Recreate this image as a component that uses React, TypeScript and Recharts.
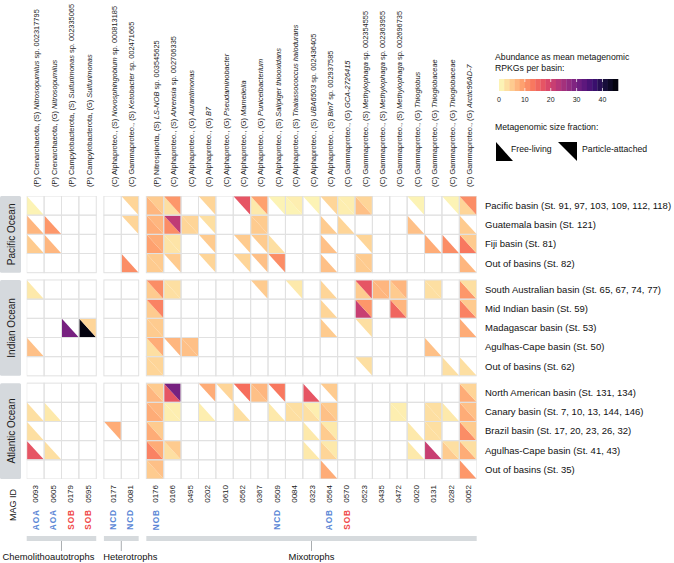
import React from "react";
import { ScatterChart, Scatter, XAxis, YAxis } from "recharts";

const FONT = "'Liberation Sans', Arial, Helvetica, sans-serif";

// columns (MAGs)
const headers = [
  "(P) Crenarchaeota, (S) *Nitrosopumilus* sp. 002317795",
  "(P) Crenarchaeota, (G) *Nitrosopumilus*",
  "(P) Campylobacterota, (S) *Sulfurimonas* sp. 002335065",
  "(P) Campylobacterota, (G) *Sulfurimonas*",
  "(C) Alphaproteo., (S) *Novosphingobium* sp. 000813185",
  "(C) Gammaproteo., (S) *Ketobacter* sp. 002471665",
  "(P) Nitrospinota, (S) *LS-NOB* sp. 003545625",
  "(C) Alphaproteo., (S) *Ahrensia* sp. 002706335",
  "(C) Alphaproteo., (G) *Aurantimonas*",
  "(C) Alphaproteo., (G) *B7*",
  "(C) Alphaproteo., (G) *Pseudaminobacter*",
  "(C) Alphaproteo., (G) *Mameliella*",
  "(C) Alphaproteo., (G) *Puniceibacterium*",
  "(C) Alphaproteo., (S) *Salipiger thiooxidans*",
  "(C) Alphaproteo., (S) *Thalassococcus halodurans*",
  "(C) Alphaproteo., (S) *UBA6503* sp. 002436405",
  "(C) Alphaproteo., (S) *Bin7* sp. 002937585",
  "(C) Gammaproteo., (G) *GCA-2726415*",
  "(C) Gammaproteo., (S) *Methylophaga* sp. 002354555",
  "(C) Gammaproteo., (S) *Methylophaga* sp. 002363955",
  "(C) Gammaproteo., (S) *Methylophaga* sp. 002696735",
  "(C) Gammaproteo., (G) *Thioglobus*",
  "(C) Gammaproteo., (G) *Thioglobaceae*",
  "(C) Gammaproteo., (G) *Thioglobaceae*",
  "(C) Gammaproteo., (G) *Arctic96AD-7*",
];
const magIds = [
  "0093", "0605", "0179", "0595", "0177", "0081", "0176", "0166", "0495", "0202", "0610", "0562", "0367",
  "0509", "0084", "0323", "0564", "0570", "0523", "0435", "0472", "0020", "0131", "0282", "0052",
];
const functions = [
  "AOA", "AOA", "SOB", "SOB", "NCD", "NCD", "NOB", "", "", "", "", "", "",
  "NCD", "", "", "AOB", "SOB", "", "", "", "", "", "", "",
];
const columnGroup = [0, 0, 0, 0, 1, 1, 2, 2, 2, 2, 2, 2, 2, 2, 2, 2, 2, 2, 2, 2, 2, 2, 2, 2, 2];
const groupNames = ["Chemolithoautotrophs", "Heterotrophs", "Mixotrophs"];

// rows (basins)
const oceans = ["Pacific Ocean", "Indian Ocean", "Atlantic Ocean"];
const basins = [
  "Pacific basin (St. 91, 97, 103, 109, 112, 118)",
  "Guatemala basin (St. 121)",
  "Fiji basin (St. 81)",
  "Out of basins (St. 82)",
  "South Australian basin (St. 65, 67, 74, 77)",
  "Mid Indian basin (St. 59)",
  "Madagascar basin (St. 53)",
  "Agulhas-Cape basin (St. 50)",
  "Out of basins (St. 62)",
  "North American basin (St. 131, 134)",
  "Canary basin (St. 7, 10, 13, 144, 146)",
  "Brazil basin (St. 17, 20, 23, 26, 32)",
  "Agulhas-Cape basin (St. 41, 43)",
  "Out of basins (St. 35)",
];
const basinOcean = [0, 0, 0, 0, 1, 1, 1, 1, 1, 2, 2, 2, 2, 2];

// RPKG values, free-living fraction (lower-left triangle)
const freeLiving = [
  [1, 0, 0, 0, 0, 0, 7, 3, 0, 0, 0, 0, 2, 0, 1, 0, 0, 1.5, 6, 0, 0, 0, 0, 0, 4],
  [7, 10, 0, 0, 0, 0, 8, 11, 4, 0, 0, 0, 5, 0, 0, 0, 5, 4, 0, 0, 0, 6, 0, 0, 5],
  [5, 7, 0, 0, 0, 0, 9, 2.5, 0, 0, 0, 0, 0, 3, 0, 0, 6, 0, 0, 0, 0, 0, 8, 11, 13],
  [0, 0, 0, 0, 0, 11, 5, 0, 0, 0, 0, 0, 0, 0, 0, 0, 6, 0, 5, 0, 0, 0, 0, 0, 7],
  [2, 0, 0, 0, 0, 0, 5, 3, 0, 0, 0, 0, 0, 0, 0, 0, 4, 0, 5, 7, 5, 0, 3, 0, 10],
  [0, 0, 0, 0, 0, 0, 5, 0, 0, 0, 0, 0, 0, 0, 0, 0, 4, 0, 21, 0, 15, 0, 0, 0, 12],
  [0, 0, 30, 45, 0, 0, 5, 0, 0, 0, 0, 0, 0, 0, 0, 0, 5, 0, 0, 0, 0, 0, 0, 0, 8],
  [6, 0, 0, 0, 0, 0, 3, 0, 6, 0, 0, 0, 0, 0, 0, 0, 0, 0, 0, 0, 0, 0, 6, 0, 0],
  [0, 0, 0, 0, 0, 0, 4, 0, 0, 0, 0, 0, 0, 0, 0, 0, 0, 0, 0, 0, 0, 0, 0, 3, 3],
  [0, 0, 0, 0, 0, 0, 7, 17, 0, 0, 0, 0, 6, 0, 0, 17, 0, 0, 0, 0, 0, 0, 0, 0, 8],
  [3, 2, 0, 0, 0, 0, 8, 1.5, 0, 1.5, 0, 3, 0, 2, 3, 3, 6, 0, 0, 0, 1.5, 0, 3, 2, 8],
  [3, 0, 0, 0, 0, 0, 8, 0, 0, 0, 0, 0, 0, 0, 0, 2, 5, 0, 0, 0, 0, 2, 3, 0, 11],
  [17, 3, 0, 0, 0, 0, 12, 3, 0, 0, 0, 0, 0, 0, 0, 2, 4, 0, 0, 0, 0, 2, 21, 5, 8],
  [0, 0, 0, 0, 0, 0, 5, 0, 0, 0, 0, 0, 0, 0, 0, 0, 8, 0, 0, 0, 0, 0, 0, 0, 10],
];
// particle-attached fraction (upper-right triangle)
const particleAttached = [
  [0, 0, 0, 0, 0, 4, 5, 10, 0, 4, 0, 17, 9, 1, 1.5, 1, 4, 1.5, 4, 0, 0, 1, 0, 1, 11],
  [0, 0, 0, 0, 0, 4, 7, 22, 4, 3, 0, 0, 5, 0, 0, 0, 0, 0, 0, 0, 0, 0, 0, 0, 0],
  [0, 0, 0, 0, 0, 0, 8, 2.5, 0, 5, 0, 5, 5, 0, 0, 0, 0, 0, 4, 0, 0, 0, 0, 0, 5],
  [0, 0, 0, 0, 0, 0, 5, 5, 0, 4, 0, 4, 6, 11, 0, 0, 0, 0, 5, 0, 0, 0, 0, 0, 0],
  [0, 0, 0, 0, 0, 0, 11, 3, 0, 0, 0, 0, 5, 0, 2, 0, 0, 0, 17, 7, 7, 0, 3, 0, 3],
  [0, 0, 0, 0, 0, 0, 12, 0, 0, 0, 0, 0, 0, 0, 0, 0, 0, 0, 10, 0, 7, 0, 0, 0, 5],
  [0, 0, 0, 4, 0, 0, 5, 0, 0, 0, 0, 0, 0, 0, 0, 0, 0, 0, 3, 0, 0, 0, 0, 0, 0],
  [0, 0, 0, 0, 0, 0, 8, 7, 6, 0, 0, 0, 0, 0, 0, 0, 0, 0, 0, 0, 0, 0, 0, 0, 0],
  [0, 0, 0, 0, 0, 0, 4, 0, 0, 0, 0, 0, 0, 0, 0, 0, 0, 0, 3, 0, 0, 0, 0, 0, 0],
  [0, 0, 0, 0, 0, 0, 5, 30, 0, 8, 4, 14, 7, 13, 0, 0, 5, 0, 0, 0, 0, 0, 0, 0, 4],
  [0, 0, 0, 0, 0, 0, 7, 1.5, 0, 0, 0, 0, 0, 0, 3, 1.5, 5, 0, 0, 0, 1.5, 0, 3, 0, 6],
  [0, 0, 0, 0, 8, 0, 5, 0, 0, 0, 0, 0, 0, 0, 0, 0, 2, 0, 0, 0, 0, 0, 3, 0, 5],
  [0, 0, 0, 0, 0, 0, 8, 5, 0, 0, 0, 0, 0, 0, 0, 0, 2, 0, 0, 0, 0, 0, 0, 3, 3],
  [0, 0, 0, 0, 0, 0, 6, 0, 0, 0, 0, 0, 0, 0, 0, 0, 0, 0, 0, 0, 0, 0, 0, 0, 0],
];
const legendTicks = [0, 10, 20, 30, 40];
const MAX_VAL = 46;

// layout
const W = 674;
const H = 563;
const PLOT = { left: 26.7, right: 476.7, top: 196, bottom: 479 };
const GAP_X = 0.44;
const GAP_Y = 0.38;
const X_SPAN = magIds.length + 2 * GAP_X;
const Y_SPAN = basins.length + 2 * GAP_Y;
const CW = (PLOT.right - PLOT.left) / X_SPAN;
const CH = (PLOT.bottom - PLOT.top) / Y_SPAN;
const AX = 1; // thickness given to each axis

const colX = (c: number) => c + 0.5 + columnGroup[c] * GAP_X;
const rowY = (r: number) => r + 0.5 + basinOcean[r] * GAP_Y;
const colCenters = magIds.map((_, c) => colX(c));
const rowCenters = basins.map((_, r) => rowY(r));
const groupCenters = groupNames.map((_, g) => {
  const cols = columnGroup.map((v, i) => (v === g ? i : -1)).filter((i) => i >= 0);
  return (colX(cols[0]) + colX(cols[cols.length - 1])) / 2;
});
const groupSizes = groupNames.map((_, g) => columnGroup.filter((v) => v === g).length);
const oceanCenters = oceans.map((_, o) => {
  const rows = basinOcean.map((v, i) => (v === o ? i : -1)).filter((i) => i >= 0);
  return (rowY(rows[0]) + rowY(rows[rows.length - 1])) / 2;
});
const oceanSizes = oceans.map((_, o) => basinOcean.filter((v) => v === o).length);

const MAGMA = ["#000004", "#140e36", "#3b0f70", "#641a80", "#8c2981", "#b73779", "#de4968", "#f7705c", "#fe9f6d", "#fecf92", "#fcfdbf"];
function rgb(h: string) {
  return [1, 3, 5].map((i) => parseInt(h.slice(i, i + 2), 16));
}
function colorFor(v: number) {
  const t = Math.max(0, Math.min(1, 1 - v / MAX_VAL)) * 10;
  const i = Math.min(9, Math.floor(t));
  const f = t - i;
  const a = rgb(MAGMA[i]);
  const b = rgb(MAGMA[i + 1]);
  const m = a.map((x, k) => Math.round(x + (b[k] - x) * f));
  return `rgb(${m[0]},${m[1]},${m[2]})`;
}

const cells = basins.flatMap((_, r) => magIds.map((_, c) => ({ x: colX(c), y: rowY(r) })));
const flData = basins.flatMap((_, r) =>
  magIds.map((_, c) => ({ x: colX(c), y: rowY(r), v: freeLiving[r][c] })).filter((d) => d.v > 0)
);
const paData = basins.flatMap((_, r) =>
  magIds.map((_, c) => ({ x: colX(c), y: rowY(r), v: particleAttached[r][c] })).filter((d) => d.v > 0)
);

const BgCell = (p: any) => (
  <rect x={p.cx - CW / 2} y={p.cy - CH / 2} width={CW} height={CH} fill="#fff" />
);
const GridCell = (p: any) => (
  <rect x={p.cx - CW / 2} y={p.cy - CH / 2} width={CW} height={CH} fill="none" stroke="#e1e1e1" strokeWidth={1} />
);
const FreeTri = (p: any) => {
  const x0 = p.cx - CW / 2, x1 = p.cx + CW / 2, y0 = p.cy - CH / 2, y1 = p.cy + CH / 2;
  return <polygon points={`${x0},${y0} ${x0},${y1} ${x1},${y1}`} fill={colorFor(p.payload.v)} />;
};
const PartTri = (p: any) => {
  const x0 = p.cx - CW / 2, x1 = p.cx + CW / 2, y0 = p.cy - CH / 2, y1 = p.cy + CH / 2;
  return <polygon points={`${x0},${y0} ${x1},${y0} ${x1},${y1}`} fill={colorFor(p.payload.v)} />;
};

const idx = (p: any) => (p.index ?? p.payload?.index ?? 0) as number;

const HeaderTick = (p: any) => {
  const i = idx(p);
  const x = p.x + 4;
  const y = PLOT.top - 9;
  return (
    <text x={x} y={y} transform={`rotate(-90 ${x} ${y})`} fontSize={7.45} fill="#222" fontFamily={FONT}>
      {headers[i].split("*").map((s, k) => (
        <tspan key={k} fontStyle={k % 2 ? "italic" : "normal"}>{s}</tspan>
      ))}
    </text>
  );
};

const MagTick = (p: any) => {
  const i = idx(p);
  const x = p.x + 3;
  const fn = functions[i];
  return (
    <g fontFamily={FONT}>
      {i === 0 && (
        <text x={15.5} y={505} transform="rotate(-90 15.5 505)" textAnchor="middle" fontSize={9} fill="#111">
          MAG ID
        </text>
      )}
      <text x={x} y={485} transform={`rotate(-90 ${x} 485)`} textAnchor="end" fontSize={8} fill="#222">
        {magIds[i]}
      </text>
      {fn && (
        <text x={x + 0.5} y={509} transform={`rotate(-90 ${x + 0.5} 509)`} textAnchor="end" fontSize={8.3}
          fontWeight="bold" letterSpacing={0.9} fill={fn === "SOB" ? "#f04848" : "#5b87d6"}>
          {fn}
        </text>
      )}
    </g>
  );
};

const GROUP_LABEL_DX = [-13, 9, 0];
const GroupTick = (p: any) => {
  const i = idx(p);
  const w = groupSizes[i] * CW;
  return (
    <g fontFamily={FONT}>
      <rect x={p.x - w / 2} y={536} width={w} height={5} fill="#d6dadd" />
      <line x1={p.x} x2={p.x} y1={541} y2={551} stroke="#a9adb0" strokeWidth={1} />
      <text x={p.x + GROUP_LABEL_DX[i]} y={560} textAnchor="middle" fontSize={9.4} fill="#111">
        {groupNames[i]}
      </text>
    </g>
  );
};

const RowTick = (p: any) => {
  const i = idx(p);
  return (
    <text x={485} y={p.y + 3.4} fontSize={9.5} fill="#111" fontFamily={FONT}>
      {basins[i]}
    </text>
  );
};

const OceanTick = (p: any) => {
  const i = idx(p);
  const h = oceanSizes[i] * CH;
  return (
    <g fontFamily={FONT}>
      <rect x={0} y={p.y - h / 2} width={21} height={h} fill="#d5d9dd" rx={1.5} />
      <text x={14.6} y={p.y} transform={`rotate(-90 14.6 ${p.y})`} textAnchor="middle" fontSize={10} fill="#222">
        {oceans[i]}
      </text>
    </g>
  );
};

function LegendOverlay() {
  const bx0 = 499, bx1 = 618;
  const steps = 23;
  const sw = (bx1 - bx0) / steps;
  const px = (v: number) => bx0 + ((bx1 - bx0) * v) / MAX_VAL;
  return (
    <svg width={W} height={H} style={{ position: "absolute", left: 0, top: 0, pointerEvents: "none" }} fontFamily={FONT}>
      <text x={495} y={60} fontSize={8.7} fill="#111">Abundance as mean metagenomic</text>
      <text x={495} y={70.5} fontSize={8.7} fill="#111">RPKGs per basin:</text>
      {Array.from({ length: steps }, (_, k) => (
        <rect key={k} x={bx0 + k * sw} y={79} width={sw + 0.3} height={12}
          fill={colorFor(((k + 0.5) * MAX_VAL) / steps)} />
      ))}
      {legendTicks.map((t) => (
        <g key={t}>
          {t > 0 && <line x1={px(t)} x2={px(t)} y1={79} y2={82} stroke="#fff" strokeWidth={0.7} />}
          {t > 0 && <line x1={px(t)} x2={px(t)} y1={88} y2={91} stroke="#fff" strokeWidth={0.7} />}
          <text x={px(t)} y={101.5} fontSize={7} textAnchor="middle" fill="#222">{t}</text>
        </g>
      ))}
      <text x={495} y={130} fontSize={8.7} fill="#111">Metagenomic size fraction:</text>
      <polygon points="496,142 496,161 513,161" fill="#000" />
      <text x={511} y={152} fontSize={8.7} fill="#111">Free-living</text>
      <polygon points="558,142 577,142 577,161" fill="#000" />
      <text x={582} y={152} fontSize={8.7} fill="#111">Particle-attached</text>
    </svg>
  );
}

export default function App() {
  return (
    <div style={{ position: "absolute", left: 0, top: 0, width: W, height: H, background: "#fff" }}>
      <ScatterChart
        width={W}
        height={H}
        margin={{
          top: PLOT.top - AX,
          right: W - PLOT.right - AX,
          bottom: H - PLOT.bottom - 2 * AX,
          left: PLOT.left - AX,
        }}
      >
        <XAxis xAxisId={0} type="number" dataKey="x" domain={[0, X_SPAN]} ticks={colCenters} interval={0}
          orientation="bottom" height={AX} axisLine={false} tickLine={false} tick={MagTick} allowDataOverflow />
        <XAxis xAxisId="grp" type="number" dataKey="x" domain={[0, X_SPAN]} ticks={groupCenters} interval={0}
          orientation="bottom" height={AX} axisLine={false} tickLine={false} tick={GroupTick} allowDataOverflow />
        <XAxis xAxisId="top" type="number" dataKey="x" domain={[0, X_SPAN]} ticks={colCenters} interval={0}
          orientation="top" height={AX} axisLine={false} tickLine={false} tick={HeaderTick} allowDataOverflow />
        <YAxis yAxisId={0} type="number" dataKey="y" domain={[0, Y_SPAN]} ticks={rowCenters} interval={0}
          reversed orientation="right" width={AX} axisLine={false} tickLine={false} tick={RowTick} allowDataOverflow />
        <YAxis yAxisId="ocean" type="number" dataKey="y" domain={[0, Y_SPAN]} ticks={oceanCenters} interval={0}
          reversed orientation="left" width={AX} axisLine={false} tickLine={false} tick={OceanTick} allowDataOverflow />
        <Scatter data={cells} shape={BgCell} isAnimationActive={false} />
        <Scatter data={flData} shape={FreeTri} isAnimationActive={false} />
        <Scatter data={paData} shape={PartTri} isAnimationActive={false} />
        <Scatter data={cells} shape={GridCell} isAnimationActive={false} />
      </ScatterChart>
      <LegendOverlay />
    </div>
  );
}
